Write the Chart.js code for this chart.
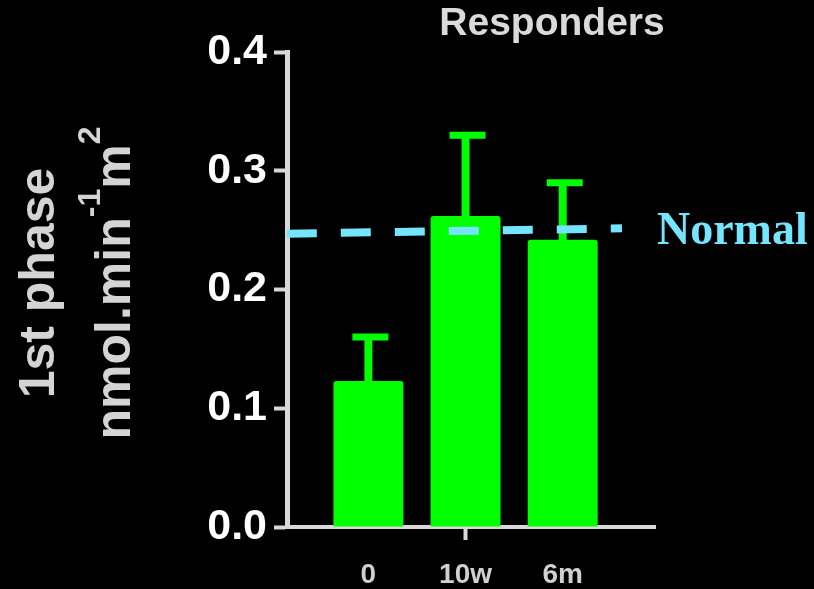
<!DOCTYPE html>
<html>
<head>
<meta charset="utf-8">
<style>
  html, body { margin: 0; padding: 0; background: #000; }
  #wrap { width: 814px; height: 589px; position: relative; }
</style>
<script src="https://cdn.jsdelivr.net/npm/chart.js@4.4.1/dist/chart.umd.min.js"></script>
</head>
<body>
<div id="wrap"><canvas id="chart" width="814" height="589"></canvas></div>
<script>
// Time points and group means with upper error (SEM)
const categories = ['0', '10w', '6m'];
const means = [0.123, 0.262, 0.242];
const sem = [0.037, 0.068, 0.048];

// Reference "Normal" level, drawn as a slightly rising dashed line
const normalX = [0.16, 3.61];
const normalY = [0.247, 0.2515];
const normalLabel = 'Normal';

// Y axis ticks
const yTicks = [0.0, 0.1, 0.2, 0.3, 0.4];

const chartTitle = 'Responders';
const yTitleLine1 = '1st phase';

const GREEN = '#00ff00';
const AXIS = '#d8d8d8';
const CYAN = '#74e4ff';

const background = {
  id: 'background',
  beforeDraw(chart) {
    const c = chart.ctx;
    c.save();
    c.fillStyle = '#000';
    c.fillRect(0, 0, chart.width, chart.height);
    c.restore();
  }
};

// Upward error bars with a cap, drawn right after the bars
const errorBars = {
  id: 'errorBars',
  afterDatasetDraw(chart, args) {
    if (args.index !== 0) return;
    const c = chart.ctx;
    const xs = chart.scales.x, ys = chart.scales.y;
    c.save();
    c.strokeStyle = GREEN;
    c.lineCap = 'butt';
    means.forEach((m, i) => {
      const px = xs.getPixelForValue(i + 1);
      const yTop = ys.getPixelForValue(m + sem[i]);
      const yBar = ys.getPixelForValue(m);
      c.lineWidth = 8;
      c.beginPath();
      c.moveTo(px, yBar + 2);
      c.lineTo(px, yTop);
      c.stroke();
      c.lineWidth = 7;
      c.beginPath();
      c.moveTo(px - 16, yTop);
      c.lineTo(px + 20, yTop);
      c.stroke();
    });
    c.restore();
  }
};

// Titles and the "Normal" label
const labels = {
  id: 'labels',
  afterDraw(chart) {
    const c = chart.ctx;
    const xs = chart.scales.x, ys = chart.scales.y;
    c.save();

    // Chart title
    c.fillStyle = '#dadada';
    c.font = 'bold 39px "Liberation Sans", Arial, sans-serif';
    c.textAlign = 'center';
    c.textBaseline = 'alphabetic';
    c.fillText(chartTitle, 552, 35);

    // Normal label at the end of the dashed line
    const ex = xs.getPixelForValue(normalX[1]);
    const ey = ys.getPixelForValue(normalY[1]);
    c.fillStyle = CYAN;
    c.font = 'bold 46px "Liberation Serif", "Times New Roman", serif';
    c.textAlign = 'left';
    c.fillText(normalLabel, ex + 35, ey + 16);

    // Rotated two-line y axis title with superscripts
    const cy = 283;
    c.fillStyle = '#d4d4d4';
    c.save();
    c.translate(54, cy);
    c.rotate(-Math.PI / 2);
    c.font = 'bold 50px "Liberation Sans", Arial, sans-serif';
    c.textAlign = 'center';
    c.fillText(yTitleLine1, 0, 0);
    c.restore();

    const big = 'bold 50px "Liberation Sans", Arial, sans-serif';
    const small = 'bold 32px "Liberation Sans", Arial, sans-serif';
    const parts = [
      { t: 'nmol.min', f: big, r: 0 },
      { t: '-1', f: small, r: 30 },
      { t: 'm', f: big, r: 0 },
      { t: '2', f: small, r: 30 }
    ];
    let total = 0;
    parts.forEach(p => { c.font = p.f; p.w = c.measureText(p.t).width; total += p.w; });
    c.save();
    c.translate(130, cy);
    c.rotate(-Math.PI / 2);
    c.textAlign = 'left';
    let x = -total / 2;
    parts.forEach(p => {
      c.font = p.f;
      c.fillText(p.t, x, -p.r);
      x += p.w;
    });
    c.restore();

    c.restore();
  }
};

new Chart(document.getElementById('chart'), {
  type: 'bar',
  data: {
    datasets: [
      {
        label: chartTitle,
        data: means.map((v, i) => ({ x: i + 1, y: v })),
        backgroundColor: GREEN,
        borderWidth: 0,
        borderRadius: 3,
        borderSkipped: 'bottom',
        barPercentage: 0.72,
        categoryPercentage: 1,
        order: 2
      },
      {
        type: 'line',
        label: normalLabel,
        data: normalX.map((x, i) => ({ x: x, y: normalY[i] })),
        borderColor: CYAN,
        borderWidth: 8,
        borderDash: [30, 24],
        borderCapStyle: 'butt',
        pointRadius: 0,
        fill: false,
        tension: 0,
        order: 1
      }
    ]
  },
  options: {
    responsive: false,
    animation: false,
    devicePixelRatio: 1,
    layout: { padding: { top: 52, right: 159, bottom: 0, left: 0 } },
    plugins: {
      legend: { display: false },
      tooltip: { enabled: false },
      title: { display: false }
    },
    scales: {
      x: {
        type: 'linear',
        offset: false,
        min: 0.162,
        max: 3.95,
        afterBuildTicks(scale) {
          scale.ticks = categories.map((_, i) => ({ value: i + 1 }));
        },
        afterFit(scale) { scale.height = 62; },
        grid: {
          offset: false,
          drawOnChartArea: false,
          drawTicks: true,
          tickLength: 13,
          tickWidth: 4,
          tickColor: (ctx) => ctx.index === 1 ? AXIS : 'rgba(0,0,0,0)'
        },
        border: { display: true, color: AXIS, width: 4 },
        ticks: {
          autoSkip: false,
          maxRotation: 0,
          padding: 18,
          color: '#d0d0d0',
          font: { family: '"Liberation Sans", Arial, sans-serif', size: 28, weight: 'bold' },
          callback: (v) => categories[v - 1]
        }
      },
      y: {
        min: 0,
        max: 0.4,
        afterBuildTicks(scale) {
          scale.ticks = yTicks.map(v => ({ value: v }));
        },
        afterFit(scale) { scale.width = 287; },
        grid: {
          drawOnChartArea: false,
          drawTicks: true,
          tickLength: 13,
          tickWidth: 4,
          tickColor: AXIS
        },
        border: { display: true, color: AXIS, width: 5 },
        ticks: {
          padding: 7,
          color: '#ffffff',
          font: { family: '"Liberation Sans", Arial, sans-serif', size: 43, weight: 'bold' },
          callback: (v) => Number(v).toFixed(1)
        }
      }
    }
  },
  plugins: [background, errorBars, labels]
});
</script>
</body>
</html>
